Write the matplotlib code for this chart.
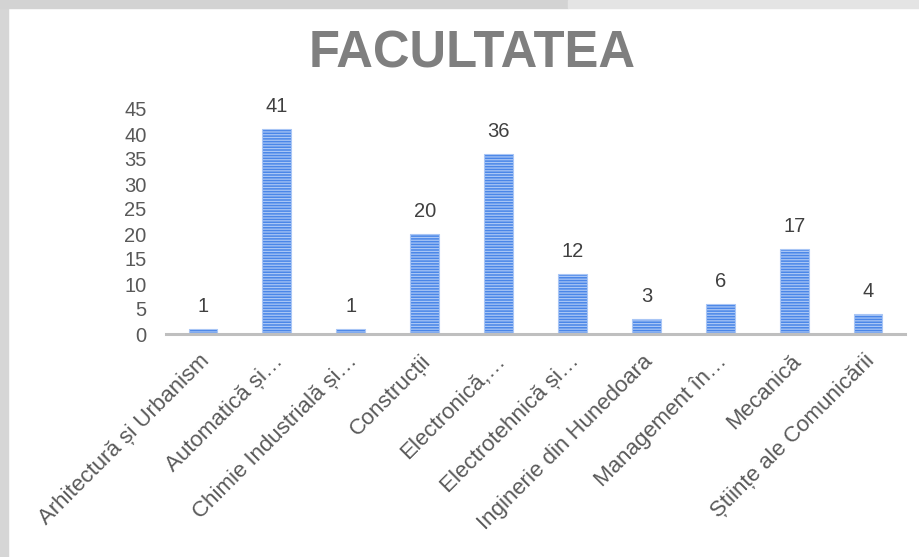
import matplotlib.pyplot as plt
from matplotlib.patches import Rectangle
from matplotlib.transforms import ScaledTranslation

categories = [
    'Arhitectură și Urbanism',
    'Automatică și…',
    'Chimie Industrială și…',
    'Construcții',
    'Electronică,…',
    'Electrotehnică și…',
    'Inginerie din Hunedoara',
    'Management în…',
    'Mecanică',
    'Științe ale Comunicării',
]
counts = [1, 41, 1, 20, 36, 12, 3, 6, 17, 4]
y_ticks = [0, 5, 10, 15, 20, 25, 30, 35, 40, 45]

plt.rcParams['font.family'] = ['Liberation Sans', 'DejaVu Sans']
plt.rcParams['hatch.linewidth'] = 0.9

fig = plt.figure(figsize=(9.19, 5.57), dpi=100)
fig.patch.set_facecolor('white')

# gray window frame around the chart
fig.patches.append(Rectangle((0, 0), 8 / 919, 1, transform=fig.transFigure,
                             color='#d6d6d6', zorder=0))
fig.patches.append(Rectangle((0, 1 - 8 / 557), 568 / 919, 8 / 557,
                             transform=fig.transFigure, color='#d3d3d3', zorder=0))
fig.patches.append(Rectangle((568 / 919, 1 - 8 / 557), 1, 8 / 557,
                             transform=fig.transFigure, color='#e4e4e4', zorder=0))

ax = fig.add_axes([166 / 919, 223 / 557, 739 / 919, 225 / 557])

x = range(len(categories))
bars = ax.bar(x, counts, width=0.39, color='#4a86e8', edgecolor='#a9c6f5',
              linewidth=0.8, hatch='------', zorder=2)

for xi, v in zip(x, counts):
    ax.text(xi, v + 2.6, str(v), ha='center', va='bottom', fontsize=14.5,
            color='#404040', clip_on=False)

ax.set_xlim(-0.5, len(categories) - 0.5)
ax.set_ylim(0, 45)
ax.set_yticks(y_ticks)
ax.set_yticklabels([str(t) for t in y_ticks], fontsize=14.5, color='#595959')
ax.set_xticks(list(x))
ax.set_xticklabels(categories, rotation=45, ha='right', rotation_mode='anchor',
                   fontsize=16, color='#595959')
ax.tick_params(axis='both', length=0)
ax.tick_params(axis='y', pad=14)
ax.tick_params(axis='x', pad=12)

# nudge rotated labels a little to the left, like the original
shift = ScaledTranslation(-4 / 100, 0, fig.dpi_scale_trans)
for lbl in ax.get_xticklabels():
    lbl.set_transform(lbl.get_transform() + shift)

for side in ['top', 'right', 'left']:
    ax.spines[side].set_visible(False)
ax.spines['bottom'].set_color('#bfbfbf')
ax.spines['bottom'].set_linewidth(2.2)
ax.spines['bottom'].set_zorder(3)

fig.text(472 / 919, 1 - 54 / 557, 'FACULTATEA', ha='center', va='center',
         fontsize=36.5, fontweight='bold', color='#7f7f7f')

fig.savefig('out.png', dpi=100)
